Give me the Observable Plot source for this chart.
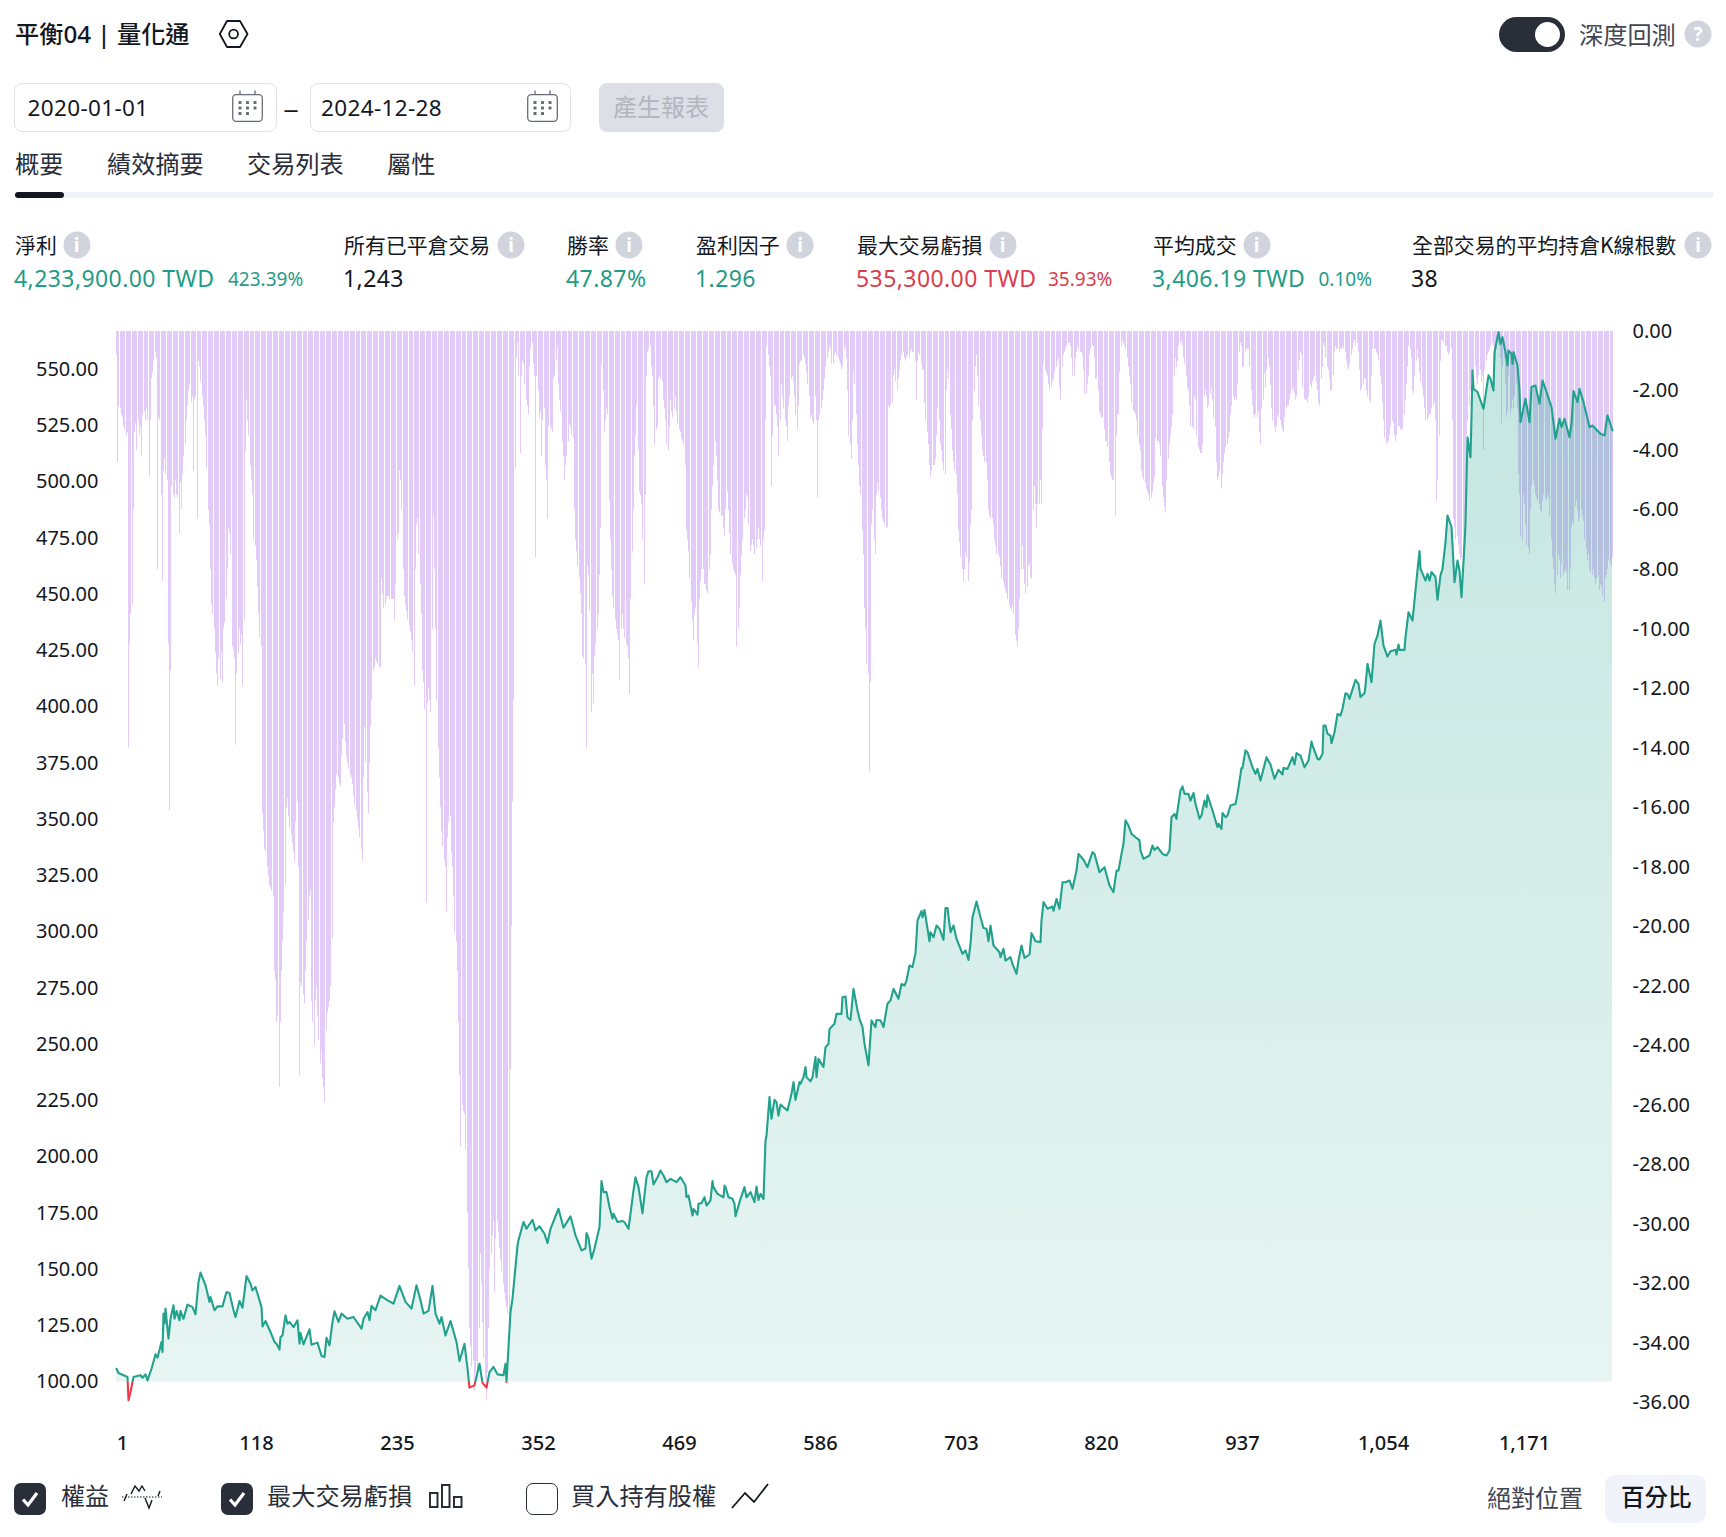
<!DOCTYPE html>
<html lang="zh-Hant">
<head>
<meta charset="utf-8">
<script src="https://cdn.jsdelivr.net/npm/d3@7"></script>
<script src="https://cdn.jsdelivr.net/npm/@observablehq/plot@0.6"></script>
<style>
html,body{margin:0;padding:0;background:#fff;}
#page{position:relative;width:1726px;height:1537px;overflow:hidden;background:#fff;color:#131722;font-family:"Noto Sans","Noto Sans CJK TC",sans-serif;}
#page .t{position:absolute;white-space:nowrap;line-height:1;transform:translateY(-50%);}
#page .b{position:absolute;box-sizing:border-box;}
#page svg.i{position:absolute;overflow:visible;}
#page .plot{position:absolute;left:0;top:290px;}
.cjk{font-family:"Noto Sans CJK TC",sans-serif;}
.g{color:#1f9c87;} .r{color:#dc3c50;}
.info{position:absolute;width:27px;height:27px;border-radius:50%;background:#d1d4dc;color:#fff;font:700 19px/27px "Noto Sans",sans-serif;text-align:center;transform:translate(-50%,-50%);}
</style>
</head>
<body>
<div id="page"></div>
<script>
// Equity curve: [trade number, equity %]
const equityCurve = [
[1,105.9],[3,104],[10,102.2],[11,91.9],[13,95.6],[15,102.2],[21,103],[23,101.9],[25,103.4],[27,100.7],[30,105.9],[33,112.3],[35,110.8],[38,117.8],[39,113.3],[40,130.4],[41,125.9],[42,132.6],[44,119.3],[46,128.1],[48,134.1],[49,128.1],[51,131.6],[53,127.4],[54,131.6],[57,128.1],[60,134.4],[64,133.3],[67,130.1],[69,144.4],[71,148.6],[75,143],[78,135.6],[79,137.8],[82,131.9],[85,133.6],[89,133.6],[92,140],[95,139.6],[98,131.9],[100,128.9],[103,136],[106,133],[109,147.1],[112,143.7],[114,140.7],[116,142.2],[121,133.3],[122,124.7],[125,127.1],[129,122.2],[132,117.8],[134,117],[136,114.4],[137,120],[139,120.7],[141,129.6],[143,125.9],[145,126.7],[148,124.4],[151,127.4],[153,117],[154,121.8],[156,116.7],[161,123.4],[163,116.6],[168,117.5],[171,111.6],[174,111.1],[175,119.6],[178,116.3],[180,126.7],[182,131.4],[185,126.7],[188,130.4],[193,128.1],[198,128.9],[204,123.7],[206,128.1],[209,131.1],[211,127.4],[213,133.8],[216,131.9],[220,138.4],[226,136.3],[231,134.8],[236,142.7],[241,135.6],[246,132.6],[250,143],[253,136.3],[256,130.4],[260,131.6],[263,142.7],[266,130.4],[269,125.9],[271,128.9],[274,120.7],[278,127.1],[283,117.8],[286,109.3],[290,117],[292,105.9],[294,97.5],[298,98.5],[302,108.1],[305,99.6],[308,97.5],[311,104.4],[314,106.7],[317,103.4],[322,103],[324,108.1],[325,100],[328,131.1],[330,137],[334,160.7],[335,163],[339,171.1],[341,168.1],[346,172.1],[349,167.4],[352,169.2],[356,165.9],[359,161.8],[361,168.1],[368,177],[372,168.6],[378,173.6],[382,165.2],[387,158.5],[390,159.3],[391,166.2],[393,164.1],[395,154.8],[398,159.3],[402,168.9],[404,189.3],[405,184.4],[408,184.4],[410,177.8],[413,172.6],[414,174.8],[417,171.1],[421,171.6],[423,171],[426,168.1],
[430,185.1],[432,191],[434,186.6],[438,175],[441,191],[443,193.7],[445,193.7],[447,187.8],[450,191],[453,194],[455,191.8],[458,188.8],[461,190.3],[466,188.8],[469,191],[473,187.3],[474,182.1],[476,182.9],[479,174],[480,176.9],[483,174.4],[484,179.2],[487,179.5],[489,182.1],[491,178.4],[494,180.7],[496,189.3],[497,186.6],[500,183.6],[505,182.1],[506,187.3],[507,186.6],[509,182.1],[512,181.4],[514,179.2],[515,173.7],[519,181.4],[522,186.6],[524,182.1],[527,184.4],[531,179.9],[532,186.9],[534,180.9],[536,183.6],[538,181.4],[540,207.3],[541,209.5],[543,226.6],[545,217],[547,225.4],[549,224.4],[551,218.4],[552,223.3],[555,222.1],[558,220.7],[561,228.1],[563,233.3],[565,225.4],[568,233.3],[569,232.5],[571,235.5],[573,240],[574,235.5],[577,233.6],[579,235.5],[581,244.4],[582,235.5],[584,243.6],[586,241.4],[588,240],[590,248.8],[592,250.3],[593,256.9],[597,259.2],[599,263.6],[603,263.6],[604,271],[606,271.3],[608,262.1],[610,260.9],[613,274.7],[616,265.1],[618,261.4],[620,257.7],[622,250.3],[625,240.7],[628,260.7],[631,257.7],[632,260.9],[635,260.7],[638,257.7],[641,268.1],[644,269.6],[646,274.7],[650,270.3],[653,276.9],[655,276.2],[657,278.4],[659,285.1],[662,284.4],[664,290.6],[666,305.1],[669,309.3],[670,306.6],[672,309.8],[676,295.9],[677,299.9],[679,297.7],[682,302.9],[684,301.4],[688,296.5],[689,310.7],[691,310.7],[693,299.9],[696,302.9],[698,297],[703,290.3],[706,291.8],[708,287.6],[710,294.7],[712,306.6],[715,313.5],[718,306.6],[721,301.8],[723,301.4],[725,295.9],[727,302.9],[729,294],[734,291],[735,288.8],[737,292.5],[739,287.3],[743,288.8],[745,285.8],[748,281.4],[750,287.3],[752,294],[755,288.5],[759,290],[761,299.5],[764,295.9],[768,295.5],[769,305.1],[771,313.3],[774,310.3],[778,311.3],[779,309.5],[781,314.7],[784,310.3],[786,322.1],[789,322.1],[792,322.9],[795,319.2],[798,327.3],[800,334.7],[804,332.1],[807,328.8],[811,335.5],[813,334.7],[817,326.6],[821,328.8],[825,320.7],[829,317.7],[831,327.3],[833,327.3],[835,334.7],[837,339.2],[839,349.6],[841,347.3],[844,343.6],[847,342.1],[850,340.7],
[851,336.2],[854,332.5],[859,334],[861,338.4],[863,336.5],[865,337.7],[869,334.7],[873,334],[875,336.2],[877,351],[879,352.5],[881,350.3],[882,354],[884,362.9],[886,364.7],[888,361.4],[891,361.4],[893,358.4],[895,361.8],[897,357],[900,350.3],[902,351.8],[904,358.4],[906,355.5],[907,360.9],[911,354],[915,346.6],[916,348.1],[918,345.8],[919,352.9],[922,351],[923,351.8],[926,356.2],[930,356.9],[932,361.4],[935,372.9],[936,372.9],[938,380.7],[940,379.9],[944,373.2],[947,370.3],[948,372.5],[951,367.3],[953,372.5],[956,377.7],[959,374.4],[962,368.1],[966,372.1],[969,370],[970,372.9],[973,372.5],[977,377.7],[979,374.4],[981,379.5],[984,378.4],[987,373.2],[991,376.2],[993,384.6],[994,382.9],[998,376.9],[1000,376.7],[1002,379.2],[1003,391.8],[1005,391.8],[1006,388.1],[1009,387.3],[1010,383.9],[1012,388.8],[1014,394],[1015,396.9],[1017,396.2],[1019,399.2],[1021,406.1],[1023,405.8],[1025,403.6],[1030,412.1],[1032,410.3],[1034,404.4],[1037,406.1],[1038,409.5],[1040,419.2],[1043,411],[1045,428],[1048,431.8],[1050,438.4],[1053,427.3],[1056,422.4],[1059,424.8],[1063,425.4],[1064,423.3],[1065,427.8],[1066,425.4],[1070,425.4],[1071,431],[1074,442.1],[1077,438.4],
[1081,460.7],[1083,469.3],[1084,461.4],[1088,456.2],[1089,459.2],[1091,456.2],[1093,460],[1096,457.7],[1098,447.7],[1100,458.5],[1102,461.4],[1104,473.3],[1106,485.1],[1109,480],[1111,463.7],[1112,455.5],[1114,465.1],[1116,460.7],[1118,448.8],[1120,472.5],[1121,481.4],[1123,519.9],[1125,511],[1126,528.8],[1127,549.6],[1128,541.4],[1131,540],[1136,532.5],[1140,547.4],[1142,545.9],[1144,540.7],[1145,557.7],[1148,566.6],[1150,561.4],[1152,564.4],[1154,557.7],[1156,551.8],[1157,558.5],[1159,557],[1160,552.5],[1161,557.7],[1164,551.8],[1166,540.7],[1167,526.6],[1171,537],[1174,526.6],[1176,542.2],[1179,542.9],[1182,534.8],[1185,545.1],[1187,541.4],[1192,533.3],[1196,519.2],[1199,528.1],[1201,524.4],[1203,528.1],[1207,519.9],[1209,525.9],[1211,540.4],[1214,535.5],[1216,541.4],[1219,535.5],[1224,524.4],[1226,525.1],[1229,523.7],[1233,521.4],[1236,520.7],[1239,529.6],[1243,522.9]
];
// Maximum trade drawdown in % for each trade (20 per row, from trade 1 on)
const drawdownPct = [
.8,4.4,2.5,2.6,2.8,2.9,3.2,3.3,3.5,3.4,14,10.5,9.5,9.2,6,3.4,3.1,4,3,3.5,
3.2,4.2,2.8,2.7,3,2.6,3,4.9,3,1.6,1.4,1,.7,.9,8,2.9,3,5.5,8.4,4.7,
4.3,4.8,5,10.5,16.1,11.4,5.2,5.5,5.6,5,5.5,5.6,6.8,5.1,6,4.8,4.2,3.8,3,2.5,
2,1.8,2.4,2.2,4.7,2.3,2.2,6.3,1,1.2,1.7,2.2,2.5,3,3.5,4.6,6,6.5,8,9.2,
9.5,10,10.8,11.5,11.9,11,11.7,10.8,11.8,10,9.8,9,8,6.6,6.8,7.5,10.6,10.7,11,13.9,
11.5,10.8,10,10.5,10.2,11.9,9.7,4,2.3,3,3.5,4.5,5,5.5,7,7.2,7.7,8.6,9.5,10.3,
10.6,16.2,16.8,17.4,17.5,18,18.3,18.6,18.7,18.8,19,21.5,21.8,23.2,23,25.4,23.2,21.5,20.5,19.5,
18.6,16,15.7,16.3,16.7,16.9,17.2,17.5,17.8,16.5,15.8,18,25,21.9,22,22.3,22.6,21.5,20.5,19.8,
19,18.8,22.5,23.2,24,22.5,22,23,23.8,24.6,24.2,25.1,25.4,25.9,23.5,22.9,22.7,22.5,22,20.4,
16.5,16,15.4,14.9,15,15.2,15.3,14.3,13.7,13.2,13.8,14.3,14.5,14.7,14.9,15,15.2,15.6,15.9,16.1,
16.4,16.7,17,17.4,17.8,15,13.3,14.5,15.5,16.2,14.5,13.3,12.4,11.4,11.3,11,11.1,11.2,11.3,11.3,
8.3,8.8,9.3,9.2,9,8.9,8.9,9,9,9,9,9.7,8.5,7,6.8,4.7,5,6,8,8.9,
9.2,9.4,9.7,9.9,10.1,10.4,10.8,11.9,8,6.5,6.3,7.5,8.5,9.5,11.4,11.8,12.7,19.2,12.5,12,
12.4,12.8,10,6.2,8,10,12.4,14,15,16,16.8,17.3,17.8,18,19.5,17,16.5,16.3,17.5,18,
19,20.2,20.5,21.5,23.2,25,27.4,26,26.2,26.3,27.5,29.6,31.5,33.5,34.1,34.8,34.6,35.6,35,34.6,
35,33.5,31,32,33.3,34.5,35.2,35.9,35,33.5,31.5,31,30.4,29.9,32.3,30.5,29.9,30.3,30.8,31.2,
31.6,32,32.3,32.6,32.8,33,33.3,24.8,20,15.8,12.4,4.6,.9,.4,1.5,4.1,1.5,1,1.1,1.8,
2.3,2.5,2.8,1.2,.6,.4,1.1,1.5,7.6,1.5,2,2.9,2.7,4.2,3,2.6,4.5,5,6.3,3.2,
3.2,3.3,3.4,1.6,1.5,1,.5,1.8,2.3,2.7,3.7,4.2,5,4.5,4.2,3.7,3.1,3.2,3.5,3.6,
6,7,7.4,7.9,8.3,8.8,9.5,10.9,11,11.2,14,7.9,8.2,9.4,12.8,11.5,12.5,10.9,10.5,10,
9.5,8.2,6.6,1.1,2,3.4,3,2.6,2.8,5.7,7,8,8.9,9.3,9.7,10,10.2,10.4,11.7,10,
9.5,10,10.3,10.5,10.6,11,12.2,9,7.4,6,4.2,3.5,2.5,4,5.4,5.5,5.8,7,8.5,5.5,
1.5,.7,.6,.5,1.2,1.5,2.5,3.8,3.3,3.2,1.6,1.5,1.6,1.7,2.3,2.6,3,3.8,4,3.2,
2.3,2.7,2.9,2.6,2.2,2.7,3.1,3.3,3.4,3.6,3.7,3.8,4.5,6.7,7,7.4,8.3,9.1,9.7,10.4,
9.5,9.3,10.5,11.3,9,8.4,8,8,8.5,8.5,8.7,8.8,8,7.5,6,5.2,4.5,3.7,4.2,5,
6,6.1,6.2,6.2,6.6,6.9,6,5.4,6,6.8,7.5,7.8,8,8.1,8.2,10.6,10,9.3,8.2,7.5,
7,6.3,6,5.5,5.6,6.5,7.4,7.2,7,7.2,7.5,7.3,7,6.6,7,7.2,8.4,7,6.7,3,
.5,.8,1.2,1.5,5.2,3.5,2.5,2.5,2.8,3.2,4.2,3,1.8,2.2,2.6,3,3.2,3.7,2.5,2.2,
1.6,1.5,1.7,2.2,2.8,3.3,2.5,1.1,1,1,.8,.9,1.1,1.4,1.8,2.2,2.9,2.8,3,3.1,
2.2,3,5.6,3,2.8,2.6,2.3,2,1.6,1.2,.9,.7,.5,.6,1.1,1.1,.8,.7,.8,.9,
1,1.1,1.3,1.2,.6,.5,.9,2,3.5,3.8,4.3,3,1.3,1.8,2.8,3.8,4.5,5.2,5.5,6.7,
7.5,9.3,10,11.2,11.5,14.8,11.8,6.5,6,7,7.5,5.5,5.1,5.4,5.6,6,6.3,6.4,6.5,6.6,
6.6,2.5,2.6,2.5,2.4,1.5,1.3,1.7,2,1.6,1.3,1,.8,.7,.9,1,.9,.8,.9,.7,
.6,.7,.7,1,2.3,1,.7,.8,1.1,1.3,1.3,2.4,3,3.4,3.8,4.5,4.9,4.7,4.5,4.5,
4.3,3.5,2.6,3,3.8,4,4.4,4.7,4.8,2,1.3,1.6,2.8,3.3,4,4.4,4.7,4.8,5.5,6.7,
7.1,7.6,8,8.4,8,7.4,7.6,8.4,7.8,6.5,6,3,2,1.2,.8,1.5,2.5,3,3.5,4,
4.2,4.4,4.4,5,6,6.2,6.3,6.3,6.5,7,7.2,7.5,7.5,7.6,7.9,8.3,8.4,8.6,8.7,8.8,
9,9.2,9.3,9.4,9.2,9.5,10.2,10.4,10.6,10,9,8,7.2,8,8.5,8.8,8.6,7.9,7.8,8.3,
8.3,6,5.2,5.8,6.6,5.8,5.8,5,5.8,3.3,1.1,1.3,1.4,1.5,1.8,2,1.9,1.7,1.6,1.4,
1.2,1,.9,1.9,2.3,1.2,.8,.7,.6,.5,.4,.4,.5,.9,1.5,1.5,.9,.7,.5,.6,
.7,.7,.8,1.3,2.1,2.1,1.8,1.5,.8,.6,.5,.5,.9,1.6,1.6,2,2.7,2.8,2.9,2.9,
3.3,3.7,3.7,3.9,4.4,4.8,4.9,5,5,6.2,3.5,2.8,2.8,1.4,.5,.3,.4,.5,.6,.9,
1.2,1.5,1.8,2.4,2.7,2.7,2.8,3,3.5,3.8,4,4.7,4.9,5,5.1,5.3,5.4,5.5,5.7,5.6,
5.4,5.1,4.9,3.6,3.7,3.7,3.8,4.2,5.2,5.6,5.9,6.1,5,4.3,3.8,3.5,3.2,2.8,1.5,.9,
1.2,1,.5,.4,.3,.5,.9,1.1,1.5,1.9,2,2.5,3.2,3.2,3.3,2.2,2.3,3.5,3.9,4,
4.1,4.1,3.8,2.2,2,2.2,2.6,2.5,2.1,1.9,2.3,2.9,3.2,4.4,5,4.9,4.7,5.3,4.8,4.4,
4.1,3.9,3.8,3.6,3.4,2.8,2.5,2.2,2.3,2.2,2.3,1.8,.7,.4,.5,1.2,1.2,.7,.6,.6,
.6,1.2,2,2.5,2.8,2.9,2.8,2.9,2.7,3.4,3.8,2.6,2.3,1.4,1.9,1.3,.9,1.2,1.8,2.6,
3,3.2,3.4,3.2,2.9,2.8,3,3.2,3.3,3.4,2.9,2.6,2.5,2.5,2.3,2.1,2,1.9,2.1,2.3,
2.2,1.3,1,.7,.8,1.9,2.3,2.3,2.3,2.4,2.2,1.8,1.9,1.7,1.6,1.5,1.7,2,2.4,2.5,
1.6,1.2,.4,.5,.9,1.2,1.3,1.6,2,2,1.5,.7,.5,.6,.6,.7,.6,.6,.5,.6,
.7,1,1.2,1.3,1.1,.8,.6,.4,.3,.5,.4,.7,1.3,2,1.9,1.8,1.6,1.6,2,2.2,
2.3,2.4,1.5,.6,.6,.6,.7,.8,1,1.5,1.8,2.4,3,3.6,3.8,3.7,3.7,3.5,3.2,3,
3.1,3.5,3.7,3.5,3.2,3.2,3.3,3.3,3.3,2.8,2.3,1.8,1.2,.5,.6,.9,2,2.1,1.5,1,
.6,.9,1.4,1.7,1.9,2.2,2.6,3,3,2.9,2.8,2.8,2.6,2.5,2.4,3,5.7,5,3.5,1,
.3,.3,.4,.5,.5,.7,.8,.7,.6,3,6.3,6.6,7,6.9,7.2,7.5,7.7,7.6,7.5,7.7,
5.5,3.5,3,2.5,2,1.6,1.5,1.3,1.2,1.6,1.8,1.5,1.3,1.7,1.5,4,1.3,1,.8,.7,
.6,.5,.4,.5,.7,1,.6,.4,.5,.9,3.1,1.2,.9,1.8,2.9,2.7,1.5,2.8,2.6,2.3,
2.6,2.2,1.8,2.6,4.8,5.5,6.9,7,5.5,5.8,6.5,7.2,7.3,7.5,6,5.2,5,5.2,5.5,5.6,
5.7,5.8,6,6.1,5.7,5.5,5.6,5.7,5.5,5.6,6.2,7,7.6,8,8.5,8.8,8.2,7.5,7.7,8.3,
7.8,8.2,8.1,8,8.1,8.7,8.7,8,6.6,6.4,6.5,5.9,5.7,6,6.4,6.3,6,6.2,6.4,7,
7.3,7.7,7.5,8,8.1,8.2,8,8.3,8.5,8.3,8.2,8.7,8.5,8.6,8.9,9.1,8.3,8.2,8,7.7,
7.8,7.9,7.6
];
const tradeTicks = [1,118,235,352,469,586,703,820,937,1054,1171];
const equityTicks = [100,125,150,175,200,225,250,275,300,325,350,375,400,425,450,475,500,525,550];
const drawdownTicks = [0,-2,-4,-6,-8,-10,-12,-14,-16,-18,-20,-22,-24,-26,-28,-30,-32,-34,-36];

const equityColor = "#22a18c", lossColor = "#f23645", barColor = "#e2cbf8";
const metrics = [
 {label:"淨利",x:15,info:76.5,v:"4,233,900.00 TWD",cls:"g",pct:"423.39%",px:228},
 {label:"所有已平倉交易",x:344,info:511,v:"1,243",cls:""},
 {label:"勝率",x:567,info:629,v:"47.87%",cls:"g"},
 {label:"盈利因子",x:696,info:800,v:"1.296",cls:"g"},
 {label:"最大交易虧損",x:857,info:1002.5,v:"535,300.00 TWD",cls:"r",pct:"35.93%",px:1048},
 {label:"平均成交",x:1153,info:1256.5,v:"3,406.19 TWD",cls:"g",pct:"0.10%",px:1318.5},
 {label:"全部交易的平均持倉K線根數",x:1412,info:1698,v:"38",cls:""}
];
const tabs = [["概要",15],["績效摘要",107],["交易列表",247],["屬性",387]];

const page = document.getElementById("page");
const W = 1726, H = 1200, TOP = 290, font = '"Noto Sans","Noto Sans CJK TC",sans-serif';
const rows = drawdownPct.map((d,i)=>({trade:i+1, dd:-d}));
const curve = equityCurve.map(([trade,v])=>({trade,v}));
const xScale = {domain:[1,1243], range:[116,1612], round:true};
const base = {width:W, height:H, marginLeft:116, marginRight:114, marginTop:40, marginBottom:65,
  style:{background:"transparent", fontFamily:font, fontSize:"20px", color:"#131722", overflow:"visible"}};

const ddPlot = Plot.plot({...base, x:{...xScale, axis:null},
  y:{domain:[-36,0], range:[1402.5-TOP, 331-TOP], axis:null},
  marks:[
    Plot.ruleX(rows,{x:"trade", y1:0, y2:"dd", stroke:barColor, strokeWidth:1}),
    Plot.axisY({anchor:"right", ticks:drawdownTicks, tickSize:0, tickPadding:20, label:null, textAnchor:"start", tickFormat:d=>d.toFixed(2)})
  ]});
const eqPlot = Plot.plot({...base, x:{...xScale, axis:null},
  y:{domain:[100,550], range:[1381.5-TOP, 369-TOP], axis:null},
  marks:[
    (index,{y})=>{const defs=d3.create("svg:defs");
      const g=defs.append("linearGradient").attr("id","eqGrad").attr("x1",0).attr("y1",0).attr("x2",0).attr("y2",1);
      g.append("stop").attr("offset","0").attr("stop-color",equityColor).attr("stop-opacity",.27);
      g.append("stop").attr("offset","1").attr("stop-color",equityColor).attr("stop-opacity",.11);
      // stroke: teal above the 100 baseline, red below it
      const top=y(570), bottom=y(80), stop=(y(100)-top)/(bottom-top);
      const s=defs.append("linearGradient").attr("id","eqStroke").attr("gradientUnits","userSpaceOnUse").attr("x1",0).attr("y1",top).attr("x2",0).attr("y2",bottom);
      s.append("stop").attr("offset",stop).attr("stop-color",equityColor);
      s.append("stop").attr("offset",stop).attr("stop-color",lossColor);
      return defs.node();},
    Plot.areaY(curve,{x:"trade", y1:100, y2:d=>Math.max(d.v,100), fill:"url(#eqGrad)"}),
    Plot.line(curve,{x:"trade", y:"v", stroke:"url(#eqStroke)", strokeWidth:2.1, strokeLinejoin:"round"}),
    Plot.axisY({anchor:"left", ticks:equityTicks, tickSize:0, tickPadding:18, label:null, tickFormat:d=>d.toFixed(2)}),
    Plot.axisX({anchor:"bottom", ticks:tradeTicks.slice(1), tickSize:0, tickPadding:10, label:null, dx:-1, tickFormat:d3.format(","), fontWeight:500, fontSize:20}),
    Plot.axisX({anchor:"bottom", ticks:tradeTicks.slice(0,1), tickSize:0, tickPadding:10, label:null, dx:6, tickFormat:d3.format(","), fontWeight:500, fontSize:20})
  ]});
ddPlot.classList.add("plot"); eqPlot.classList.add("plot");
page.append(ddPlot, eqPlot);

function text(s,x,y,size,o={}){
  const e=document.createElement("div"); e.className="t "+(o.cls||"");
  e.textContent=s; e.style.left=x+"px"; e.style.top=y+"px"; e.style.fontSize=size+"px";
  if(o.color) e.style.color=o.color; if(o.weight) e.style.fontWeight=o.weight;
  if(o.ls) e.style.letterSpacing=o.ls+"px";
  page.append(e); return e;
}
function box(x,y,w,h,css){
  const e=document.createElement("div"); e.className="b";
  Object.assign(e.style,{left:x+"px",top:y+"px",width:w+"px",height:h+"px"},css); page.append(e); return e;
}
function icon(x,y,w,h,inner){
  const ns="http://www.w3.org/2000/svg", s=document.createElementNS(ns,"svg");
  s.setAttribute("class","i"); s.setAttribute("width",w); s.setAttribute("height",h);
  s.setAttribute("viewBox",`0 0 ${w} ${h}`); s.style.left=x+"px"; s.style.top=y+"px";
  s.innerHTML=inner; page.append(s); return s;
}
function info(x,y,ch){const e=document.createElement("div");e.className="info";e.textContent=ch;e.style.left=x+"px";e.style.top=y+"px";page.append(e);}
function calendar(x,y){icon(x,y,31,32,`<rect x=".7" y="4.7" width="29.6" height="26.6" rx="3.5" fill="none" stroke="#6a6d78" stroke-width="1.3"/>
 <path d="M8 .5V5M23 .5V5" stroke="#6a6d78" stroke-width="1.3"/>
 ${[10,15.5,21].map((yy,r)=>[8,15.5,23].map((xx,c)=>(r==2&&c==2)?"":`<rect x="${xx-1.5}" y="${yy+1}" width="3" height="3" rx=".6" fill="#6a6d78"/>`).join("")).join("")}`);}
function check(x,y,on){
  box(x,y,32,32,on?{background:"#2a2e39",borderRadius:"7px"}:{border:"1.2px solid #2a2e39",borderRadius:"7px"});
  if(on) icon(x,y,32,32,`<path d="M9 16.5l5 5.5 9-12" fill="none" stroke="#fff" stroke-width="3.2"/>`);
}

// Header
text("平衡04 | 量化通",15,34,24.2,{weight:500});
icon(219,18,30,32,`<path d="M8 3h13l7.5 13-7.5 13H8L.8 16z" fill="none" stroke="#131722" stroke-width="1.8" stroke-linejoin="round"/><circle cx="14.6" cy="16" r="4.4" fill="none" stroke="#131722" stroke-width="1.8"/>`);
box(1499,17,66,35,{background:"#2a2e39",borderRadius:"18px"});
box(1534.5,22,25,25,{background:"#fff",borderRadius:"50%"});
text("深度回測",1579,34,24.2,{cls:"cjk",color:"#434651"});
info(1698,34,"?");

// Date range
box(14,83,263,49,{border:"1px solid #e0e3eb",borderRadius:"8px"});
text("2020-01-01",27.5,108,22.5,{ls:.35});
calendar(232,90);
text("–",285,108,24,{color:"#131722"}).style.transform="translateY(-50%) scaleX(1.3)";
box(309.5,83,261.5,49,{border:"1px solid #e0e3eb",borderRadius:"8px"});
text("2024-12-28",321,108,22.5,{ls:.35});
calendar(527,90);
box(599,83,125,49,{background:"#dcdfe6",borderRadius:"8px"});
text("產生報表",613,106,24,{cls:"cjk",color:"#b2b5be"});

// Tabs
tabs.forEach(([s,x])=>text(s,x,163,24.2,{cls:"cjk",color:"#2a2e39"}));
box(15,192,1699,6,{background:"#f0f3fa",borderRadius:"3px"});
box(15,192,49,6,{background:"#131722",borderRadius:"3px"});

// Metrics
metrics.forEach(m=>{
  text(m.label,m.x,244,20.9,{cls:"cjk"});
  info(m.info,245,"i");
  text(m.v,m.x-1,277.5,23,{cls:m.cls,ls:.42});
  if(m.pct) text(m.pct,m.px,279,19,{cls:m.cls});
});

// Bottom controls
check(14,1483,true);
text("權益",61,1495,24,{cls:"cjk",color:"#2a2e39"});
icon(121,1482,42,28,`<path d="M3 19l3 -7M10 12l4 -8 4 5 3 -5 3 5 M24 16l4 10 3 -8M37 14l2 -5" fill="none" stroke="#131722" stroke-width="1.4"/><path d="M1 15H41" stroke="#131722" stroke-width="1.2" stroke-dasharray="1.5 1.5"/>`);
check(221,1483,true);
text("最大交易虧損",267,1495,24.2,{cls:"cjk",color:"#2a2e39"});
icon(429,1484,34,25,`<g fill="none" stroke="#2a2e39" stroke-width="2"><rect x="1" y="9" width="7.5" height="14"/><rect x="13" y="1" width="7.5" height="22"/><rect x="25" y="13" width="7.5" height="10"/></g>`);
check(525.5,1483,false);
text("買入持有股權",571,1495,24.2,{cls:"cjk",color:"#2a2e39"});
icon(731,1483,38,26,`<path d="M1 25L14 10l9 9L37 1" fill="none" stroke="#131722" stroke-width="1.8"/>`);
text("絕對位置",1487,1497,24,{cls:"cjk",color:"#434651"});
box(1605,1475,101,48,{background:"#f0f3fa",borderRadius:"9px"});
text("百分比",1621,1497,23.5,{cls:"cjk",weight:500});
</script>
</body>
</html>
